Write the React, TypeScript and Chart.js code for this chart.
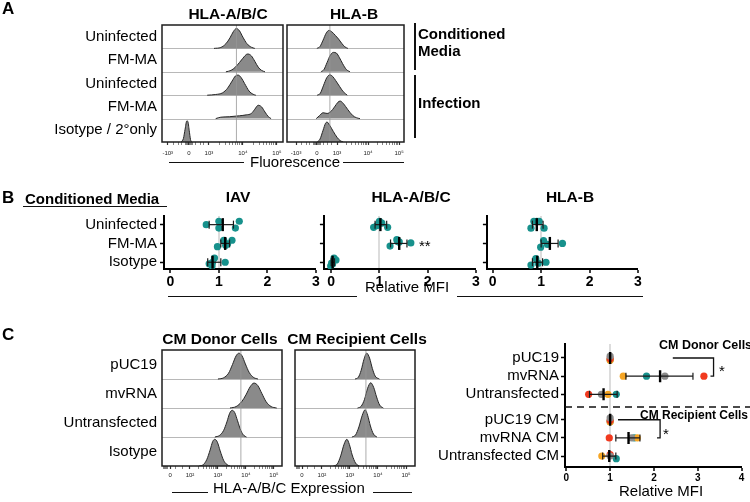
import React, { useEffect, useRef } from 'react';
import { Chart, registerables } from 'chart.js';

Chart.register(...registerables);

const FONT = "'Liberation Sans', Arial, Helvetica, sans-serif";
Chart.defaults.font.family = FONT;
Chart.defaults.color = '#000';

// ---------------- DATA ----------------
// Panel A: flow histograms, x in log10 display units, h = relative height in row
const A_ROWS = ['Uninfected', 'FM-MA', 'Uninfected', 'FM-MA', 'Isotype / 2°only'];
const A_ABC_HISTS = [
  [[3.15, 0], [3.35, 0.04], [3.5, 0.2], [3.62, 0.45], [3.72, 0.72], [3.81, 0.85], [3.9, 0.75], [4.0, 0.48], [4.12, 0.2], [4.25, 0.05], [4.35, 0]],
  [[3.5, 0], [3.65, 0.06], [3.78, 0.2], [3.9, 0.4], [4.0, 0.58], [4.1, 0.74], [4.15, 0.76], [4.25, 0.68], [4.35, 0.45], [4.45, 0.2], [4.55, 0.06], [4.65, 0]],
  [[2.95, 0], [3.2, 0.03], [3.4, 0.1], [3.55, 0.3], [3.68, 0.6], [3.78, 0.82], [3.86, 0.86], [3.95, 0.75], [4.05, 0.5], [4.18, 0.18], [4.3, 0.04], [4.38, 0]],
  [[3.2, 0], [3.35, 0.06], [3.6, 0.08], [3.9, 0.12], [4.1, 0.16], [4.25, 0.22], [4.35, 0.4], [4.45, 0.57], [4.55, 0.5], [4.65, 0.28], [4.75, 0.08], [4.83, 0]],
  [[2.18, 0], [2.25, 0.15], [2.3, 0.55], [2.35, 0.9], [2.38, 0.88], [2.42, 0.5], [2.46, 0.1], [2.5, 0]],
];
const A_B_HISTS = [
  [[2.35, 0], [2.45, 0.08], [2.55, 0.35], [2.65, 0.65], [2.74, 0.77], [2.84, 0.7], [2.95, 0.55], [3.05, 0.4], [3.15, 0.22], [3.25, 0.07], [3.35, 0]],
  [[2.48, 0], [2.58, 0.1], [2.68, 0.4], [2.78, 0.7], [2.88, 0.83], [2.98, 0.8], [3.08, 0.6], [3.18, 0.35], [3.3, 0.1], [3.42, 0]],
  [[2.36, 0], [2.46, 0.08], [2.56, 0.4], [2.67, 0.75], [2.77, 0.87], [2.86, 0.8], [2.96, 0.62], [3.08, 0.38], [3.2, 0.15], [3.33, 0]],
  [[2.33, 0], [2.43, 0.12], [2.55, 0.25], [2.68, 0.22], [2.8, 0.3], [2.92, 0.5], [3.03, 0.7], [3.1, 0.75], [3.2, 0.65], [3.35, 0.38], [3.5, 0.14], [3.62, 0.04], [3.74, 0]],
  [[2.36, 0], [2.45, 0.12], [2.55, 0.5], [2.63, 0.8], [2.68, 0.85], [2.76, 0.72], [2.88, 0.45], [3.0, 0.2], [3.1, 0.06], [3.2, 0]],
];
const A_ABC_REF = 3.81;
const A_B_REF = 2.77;
const A_ABC_TICKS = [1.79, 2.41, 3, 4, 5];
const A_B_TICKS = [1.68, 2.35, 3, 4, 5];
const A_TICK_LABELS = ['-10³', '0', '10³', '10⁴', '10⁵'];

// Panel B: relative MFI dot plots
const B_ROWS = ['Uninfected', 'FM-MA', 'Isotype'];
const B_X_TICKS = [0, 1, 2, 3];
const B_IAV_VALUES = [[0.74, 1.0, 1.0, 1.34, 1.42], [0.97, 1.1, 1.14, 1.18, 1.27], [0.8, 0.91, 0.87, 0.86, 1.13]];
const B_IAV_JITTER = [[0, -0.18, 0.18, 0.18, -0.18], [0.17, -0.17, 0.1, 0.02, -0.17], [0.08, -0.22, 0, 0.2, 0]];
const B_IAV_MEAN = [1.08, 1.13, 0.87];
const B_IAV_LO = [0.8, 1.04, 0.77];
const B_IAV_HI = [1.3, 1.22, 1.04];
const B_ABC_VALUES = [[0.88, 1.0, 1.05, 1.17, 0.95], [1.22, 1.36, 1.41, 1.65, 1.38], [0.01, 0.06, -0.01, 0.1, 0.03]];
const B_ABC_JITTER = [[0.14, -0.17, -0.08, 0.14, 0.05], [0.14, -0.2, -0.08, -0.03, -0.1], [0.05, -0.22, 0.2, -0.12, 0.1]];
const B_ABC_MEAN = [1.02, 1.41, 0.03];
const B_ABC_LO = [0.91, 1.23, 0.0];
const B_ABC_HI = [1.15, 1.57, 0.07];
const B_B_VALUES = [[0.79, 0.85, 0.96, 1.06, 0.91], [0.99, 1.05, 1.13, 1.44], [0.79, 0.89, 1.1, 0.94]];
const B_B_JITTER = [[0.19, -0.17, -0.17, 0.19, -0.17], [0.2, -0.15, 0.05, 0], [0.15, -0.2, 0, 0.05]];
const B_B_MEAN = [0.91, 1.18, 0.92];
const B_B_LO = [0.82, 1.0, 0.82];
const B_B_HI = [1.04, 1.35, 1.03];

// Panel C: histograms
const C_HIST_ROWS = ['pUC19', 'mvRNA', 'Untransfected', 'Isotype'];
const C_DONOR_HISTS = [
  [[3.0, 0], [3.2, 0.04], [3.38, 0.2], [3.52, 0.5], [3.65, 0.8], [3.75, 0.89], [3.86, 0.8], [3.98, 0.52], [4.12, 0.22], [4.28, 0.05], [4.43, 0]],
  [[3.43, 0], [3.65, 0.05], [3.85, 0.22], [4.0, 0.45], [4.15, 0.73], [4.29, 0.86], [4.42, 0.78], [4.57, 0.5], [4.72, 0.22], [4.9, 0.05], [5.1, 0]],
  [[2.89, 0], [3.05, 0.05], [3.2, 0.22], [3.32, 0.52], [3.42, 0.82], [3.51, 0.92], [3.6, 0.84], [3.7, 0.56], [3.82, 0.22], [3.93, 0.05], [4.02, 0]],
  [[2.33, 0], [2.48, 0.05], [2.6, 0.22], [2.72, 0.55], [2.81, 0.84], [2.89, 0.92], [2.98, 0.82], [3.08, 0.52], [3.2, 0.2], [3.32, 0.05], [3.43, 0]],
];
const C_RECIP_HISTS = [
  [[3.18, 0], [3.3, 0.06], [3.4, 0.3], [3.5, 0.68], [3.6, 0.89], [3.7, 0.72], [3.8, 0.36], [3.9, 0.1], [4.05, 0]],
  [[3.27, 0], [3.4, 0.06], [3.52, 0.3], [3.63, 0.68], [3.74, 0.87], [3.85, 0.7], [3.95, 0.38], [4.06, 0.1], [4.19, 0]],
  [[3.07, 0], [3.2, 0.07], [3.32, 0.35], [3.44, 0.75], [3.54, 0.94], [3.63, 0.75], [3.73, 0.38], [3.84, 0.1], [3.96, 0]],
  [[2.41, 0], [2.55, 0.07], [2.67, 0.35], [2.79, 0.75], [2.89, 0.92], [2.98, 0.74], [3.08, 0.38], [3.2, 0.1], [3.33, 0]],
];
const C_DONOR_REF = 3.82;
const C_RECIP_REF = 3.57;
const C_HIST_TICKS = [1.29, 2, 3, 4, 5];
const C_HIST_TICK_LABELS = ['0', '10²', '10³', '10⁴', '10⁵'];

// Panel C: relative MFI per donor
const C_CATS = ['pUC19', 'mvRNA', 'Untransfected', 'pUC19 CM', 'mvRNA CM', 'Untransfected CM'];
const C_GRAY = [1, 2.25, 0.8, 1, 1.49, 1.0];
const C_RED = [1, 3.14, 0.51, 1, 0.98, 1.0];
const C_ORANGE = [1, 1.3, 0.95, 1, 1.62, 0.81];
const C_TEAL = [1, 1.83, 1.14, 1, 1.55, 1.14];
const C_MEAN = [1, 2.14, 0.85, 1, 1.42, 0.98];
const C_LO = [1, 1.36, 0.53, 1, 1.13, 0.83];
const C_HI = [1, 2.89, 1.16, 1, 1.68, 1.13];
const C_X_TICKS = [0, 1, 2, 3, 4];
const C_DONOR_BRACKET = [2.43, 3.36, 3.29];
const C_RECIP_BRACKET = [1.18, 2.14, 2.07];

// ---------------- STYLE / LAYOUT HELPERS ----------------
const TEAL = '#17918c';
const RED = '#f13a1f';
const ORANGE = '#f5a524';
const GRAY = '#8b8b8b';

const C_JITTER = {
  gray: [-0.1, 0, 0, -0.1, 0, 0],
  red: [0.04, 0, 0, 0.04, 0, -0.08],
  orange: [0.12, 0, 0, 0.12, 0, 0],
  teal: [0.1, 0, 0, 0.1, 0, 0.14],
};
const catPos = (i: number) => (i < 3 ? i : i + 0.4);

function decadeMinor(d0: number, d1: number) {
  const out: number[] = [];
  for (let d = d0; d < d1; d++) for (let k = 2; k <= 9; k++) out.push(d + Math.log10(k));
  return out;
}

const framePlugin = (n: number) => ({
  id: 'frame',
  beforeDatasetsDraw(chart: any) {
    const { ctx, chartArea: a, scales } = chart;
    ctx.save();
    ctx.strokeStyle = '#b8b8b8';
    ctx.lineWidth = 1;
    for (let k = 1; k < n; k++) {
      const py = Math.round(scales.y.getPixelForValue(k)) + 0.5;
      ctx.beginPath();
      ctx.moveTo(a.left, py);
      ctx.lineTo(a.right, py);
      ctx.stroke();
    }
    ctx.restore();
  },
  afterDatasetsDraw(chart: any) {
    const { ctx, chartArea: a } = chart;
    ctx.save();
    ctx.strokeStyle = '#1e1e1e';
    ctx.lineWidth = 1.5;
    ctx.strokeRect(a.left, a.top, a.right - a.left, a.bottom - a.top);
    ctx.restore();
  },
});

function histConfig(o: any) {
  const n = o.hists.length;
  const datasets: any[] = [
    {
      data: [{ x: o.ref, y: 0 }, { x: o.ref, y: n }],
      borderColor: 'rgba(150,150,150,0.8)',
      borderWidth: 1,
      pointRadius: 0,
      fill: false,
      order: 0,
    },
  ];
  o.hists.forEach((pts: number[][], r: number) => {
    const base = n - 1 - r;
    datasets.push({
      data: pts.map(([x, h]) => ({ x, y: base + h })),
      fill: { value: base },
      backgroundColor: '#8a8a8a',
      borderColor: '#262626',
      borderWidth: 1,
      pointRadius: 0,
      tension: 0.4,
      cubicInterpolationMode: 'monotone',
      order: 1,
    });
  });
  const allTicks = [...o.ticks, ...o.minor.filter((v: number) => v > o.min && v < o.max)];
  return {
    type: 'line',
    data: { datasets },
    options: {
      responsive: false,
      animation: false,
      devicePixelRatio: 1,
      events: [],
      layout: { padding: { top: o.padTop, right: o.padRight, left: 0, bottom: 0 } },
      plugins: { legend: { display: false }, tooltip: { enabled: false } },
      scales: {
        x: {
          type: 'linear',
          min: o.min,
          max: o.max,
          afterBuildTicks: (s: any) => {
            s.ticks = allTicks.map((v) => ({ value: v }));
          },
          afterFit: (s: any) => {
            s.height = o.xH;
          },
          ticks: {
            autoSkip: false,
            maxRotation: 0,
            padding: o.tickPad,
            font: { size: 6 },
            color: '#222',
            callback: (v: any, i: number) => (i < o.ticks.length ? o.labels[i] : ''),
          },
          grid: {
            drawOnChartArea: false,
            drawTicks: true,
            tickLength: 3,
            tickColor: '#333',
            tickWidth: (ctx: any) => (ctx.index < o.ticks.length ? 1.2 : 0.6),
          },
          border: { display: false },
        },
        y: {
          type: 'linear',
          min: 0,
          max: n,
          afterBuildTicks: (s: any) => {
            s.ticks = o.hists.map((_: any, k: number) => ({ value: k + 0.5 }));
          },
          afterFit: (s: any) => {
            s.width = o.yW;
          },
          ticks: {
            autoSkip: false,
            padding: 5,
            font: { size: 15 },
            color: '#000',
            callback: (v: number) => (o.rows ? o.rows[n - 1 - Math.floor(v)] : ''),
          },
          grid: { display: false, drawTicks: false, tickLength: 0 },
          border: { display: false },
        },
      },
    },
    plugins: [framePlugin(n)],
  };
}

function dotConfig(o: any) {
  const datasets: any[] = [];
  o.series.forEach((s: any, si: number) => {
    datasets.push({
      type: 'scatter',
      data: s.points,
      pointRadius: o.pointR,
      pointBackgroundColor: s.color,
      pointBorderWidth: 0,
      order: 10 + si,
    });
  });
  o.mean.forEach((_: number, r: number) => {
    if (o.lo[r] === o.hi[r]) return;
    datasets.push({
      type: 'line',
      data: [{ x: o.lo[r], y: o.pos[r] }, { x: o.hi[r], y: o.pos[r] }],
      showLine: true,
      fill: false,
      borderColor: '#1a1a1a',
      borderWidth: 1.2,
      pointStyle: 'line',
      pointRadius: o.capR,
      pointRotation: 90,
      pointBorderColor: '#1a1a1a',
      pointBorderWidth: 1.2,
      order: 2,
    });
  });
  datasets.push({
    type: 'scatter',
    data: o.mean.map((m: number, r: number) => ({ x: m, y: o.pos[r] })),
    pointStyle: 'line',
    pointRadius: o.meanR,
    pointRotation: 90,
    pointBorderColor: '#000',
    pointBorderWidth: 2.4,
    order: 1,
  });
  const plugins: any[] = [];
  if (o.decor) plugins.push({ id: 'decor', afterDatasetsDraw: o.decor });
  return {
    type: 'scatter',
    data: { datasets },
    options: {
      responsive: false,
      animation: false,
      devicePixelRatio: 1,
      events: [],
      layout: { padding: { top: o.padTop, right: o.padRight, left: 0, bottom: 0 } },
      plugins: { legend: { display: false }, tooltip: { enabled: false } },
      scales: {
        x: {
          type: 'linear',
          min: o.xmin,
          max: o.xmax,
          afterBuildTicks: (s: any) => {
            s.ticks = o.xticks.map((v: number) => ({ value: v }));
          },
          afterFit: (s: any) => {
            s.height = o.xH;
          },
          ticks: {
            autoSkip: false,
            maxRotation: 0,
            padding: o.xPad,
            font: { size: o.xFont, weight: 'bold' },
            color: '#000',
            callback: (v: number) => String(v),
          },
          grid: {
            drawOnChartArea: true,
            color: (ctx: any) => (ctx.tick && ctx.tick.value === 1 ? '#dcdcdc' : 'rgba(0,0,0,0)'),
            lineWidth: (ctx: any) => (ctx.tick && ctx.tick.value === 1 ? 2 : 0),
            tickColor: '#000',
            tickWidth: 1.5,
            tickLength: 4,
          },
          border: { display: true, color: '#000', width: 2 },
        },
        y: {
          type: 'linear',
          reverse: true,
          min: o.ymin,
          max: o.ymax,
          afterBuildTicks: (s: any) => {
            s.ticks = o.pos.map((v: number) => ({ value: v }));
          },
          afterFit: (s: any) => {
            s.width = o.yW;
          },
          ticks: {
            autoSkip: false,
            padding: o.yPad,
            font: { size: 15 },
            color: '#000',
            callback: (v: number, i: number) => (o.labels ? o.labels[i] : ''),
          },
          grid: { drawOnChartArea: false, tickColor: '#000', tickWidth: 1.5, tickLength: 4 },
          border: { display: true, color: '#000', width: 2 },
        },
      },
    },
    plugins,
  };
}

function ChartBox({ left, top, width, height, config }: any) {
  const ref = useRef<HTMLCanvasElement>(null);
  useEffect(() => {
    const chart = new Chart(ref.current as HTMLCanvasElement, config);
    return () => chart.destroy();
  }, []);
  return (
    <canvas
      ref={ref}
      width={width}
      height={height}
      style={{ position: 'absolute', left, top, width, height }}
    />
  );
}

function Txt({ x, y, size = 15, bold = false, align = 'left', children }: any) {
  const style: any = {
    position: 'absolute',
    top: y - 0.8465 * size,
    fontFamily: FONT,
    fontSize: size,
    fontWeight: bold ? 700 : 400,
    lineHeight: `${size}px`,
    whiteSpace: 'nowrap',
    color: '#000',
  };
  if (align === 'left') style.left = x;
  else if (align === 'center') {
    style.left = x - 150;
    style.width = 300;
    style.textAlign = 'center';
  } else {
    style.left = x - 300;
    style.width = 300;
    style.textAlign = 'right';
  }
  return <div style={style}>{children}</div>;
}

function HRule({ x1, x2, y, w = 1 }: any) {
  return <div style={{ position: 'absolute', left: x1, top: y - w / 2, width: x2 - x1, height: w, background: '#111' }} />;
}
function VRule({ x, y1, y2, w = 1.5 }: any) {
  return <div style={{ position: 'absolute', left: x - w / 2, top: y1, width: w, height: y2 - y1, background: '#111' }} />;
}

function bSeries(values: number[][], jitter: number[][]) {
  const pts: any[] = [];
  values.forEach((row, r) => row.forEach((v, i) => pts.push({ x: v, y: r + jitter[r][i] })));
  return [{ color: TEAL, points: pts }];
}

function cSeries(values: number[], jit: number[]) {
  return values.map((v, i) => ({ x: v, y: catPos(i) + jit[i] }));
}

export default function App() {
  const aMinorL = [1.95, 2.1, 2.2, 2.3, 2.34, 2.37, 2.39, 2.43, 2.45, 2.48, 2.52, 2.62, 2.75, 2.85, ...decadeMinor(3, 5)];
  const aMinorR = [1.85, 2.0, 2.1, 2.24, 2.28, 2.31, 2.33, 2.37, 2.39, 2.42, 2.46, 2.56, 2.7, 2.82, ...decadeMinor(3, 5)];
  const cMinor = [1.04, 1.08, 1.12, 1.16, 1.2, 1.5, 1.75, ...decadeMinor(2, 5)];

  const aLeft = histConfig({
    hists: A_ABC_HISTS, ref: A_ABC_REF, min: 1.62, max: 5.18, ticks: A_ABC_TICKS, labels: A_TICK_LABELS,
    minor: aMinorL, rows: A_ROWS, yW: 162, xH: 20, tickPad: 5, padTop: 10, padRight: 2,
  });
  const aRight = histConfig({
    hists: A_B_HISTS, ref: A_B_REF, min: 1.387, max: 5.16, ticks: A_B_TICKS, labels: A_TICK_LABELS,
    minor: aMinorR, rows: null, yW: 4, xH: 20, tickPad: 5, padTop: 10, padRight: 2,
  });
  const cLeft = histConfig({
    hists: C_DONOR_HISTS, ref: C_DONOR_REF, min: 1.0, max: 5.29, ticks: C_HIST_TICKS, labels: C_HIST_TICK_LABELS,
    minor: cMinor, rows: C_HIST_ROWS, yW: 162, xH: 18, tickPad: 3, padTop: 10, padRight: 2,
  });
  const cRight = histConfig({
    hists: C_RECIP_HISTS, ref: C_RECIP_REF, min: 1.04, max: 5.32, ticks: C_HIST_TICKS, labels: C_HIST_TICK_LABELS,
    minor: cMinor, rows: null, yW: 4, xH: 18, tickPad: 3, padTop: 10, padRight: 2,
  });

  const bCommon = {
    xmax: 3, xticks: B_X_TICKS, ymin: -0.46, ymax: 2.36, pos: [0, 1, 2], padTop: 10, padRight: 10,
    xH: 24, xPad: 1, xFont: 14, yPad: 3, pointR: 3.6, capR: 4, meanR: 6.5,
  };
  const bIAV = dotConfig({
    ...bCommon, xmin: -0.13, yW: 164, labels: B_ROWS,
    series: bSeries(B_IAV_VALUES, B_IAV_JITTER), mean: B_IAV_MEAN, lo: B_IAV_LO, hi: B_IAV_HI,
  });
  const bABC = dotConfig({
    ...bCommon, xmin: -0.15, yW: 8, labels: null,
    series: bSeries(B_ABC_VALUES, B_ABC_JITTER), mean: B_ABC_MEAN, lo: B_ABC_LO, hi: B_ABC_HI,
  });
  const bB = dotConfig({
    ...bCommon, xmin: -0.12, yW: 8, labels: null,
    series: bSeries(B_B_VALUES, B_B_JITTER), mean: B_B_MEAN, lo: B_B_LO, hi: B_B_HI,
  });

  const cDecor = (chart: any) => {
    const { ctx, chartArea: a, scales } = chart;
    const X = (v: number) => scales.x.getPixelForValue(v);
    const Y = (v: number) => scales.y.getPixelForValue(v);
    ctx.save();
    ctx.strokeStyle = '#111';
    ctx.lineWidth = 1.5;
    ctx.setLineDash([7, 5]);
    const sy = Y((catPos(2) + catPos(3)) / 2);
    ctx.beginPath();
    ctx.moveTo(a.left, sy);
    ctx.lineTo(chart.width, sy);
    ctx.stroke();
    ctx.setLineDash([]);
    ctx.lineWidth = 1.3;
    const bracket = (b: number[], r0: number, r1: number) => {
      ctx.beginPath();
      ctx.moveTo(X(b[0]), Y(catPos(r0)));
      ctx.lineTo(X(b[1]), Y(catPos(r0)));
      ctx.lineTo(X(b[1]), Y(catPos(r1)));
      ctx.lineTo(X(b[2]), Y(catPos(r1)));
      ctx.stroke();
    };
    bracket(C_DONOR_BRACKET, 0, 1);
    bracket(C_RECIP_BRACKET, 3, 4);
    ctx.restore();
  };

  const cDots = dotConfig({
    xmin: -0.03, xmax: 4, xticks: C_X_TICKS, ymin: -0.77, ymax: 6.0, pos: C_CATS.map((_, i) => catPos(i)),
    padTop: 10, padRight: 8, xH: 30, xPad: 1, xFont: 10, yPad: 2, yW: 135, labels: C_CATS,
    pointR: 3.6, capR: 3.5, meanR: 6,
    series: [
      { color: GRAY, points: cSeries(C_GRAY, C_JITTER.gray) },
      { color: RED, points: cSeries(C_RED, C_JITTER.red) },
      { color: ORANGE, points: cSeries(C_ORANGE, C_JITTER.orange) },
      { color: TEAL, points: cSeries(C_TEAL, C_JITTER.teal) },
    ],
    mean: C_MEAN, lo: C_LO, hi: C_HI, decor: cDecor,
  });

  return (
    <div style={{ position: 'absolute', left: 0, top: 0, width: 750, height: 502, background: '#fff', overflow: 'hidden' }}>
      {/* Panel A */}
      <ChartBox left={0} top={11} width={285} height={151} config={aLeft} />
      <ChartBox left={283} top={11} width={123} height={151} config={aRight} />
      <Txt x={2} y={14.5} size={17} bold>A</Txt>
      <Txt x={228} y={19.5} size={15.5} bold align="center">HLA-A/B/C</Txt>
      <Txt x={354} y={19.5} size={15.5} bold align="center">HLA-B</Txt>
      <VRule x={415} y1={23} y2={70} />
      <VRule x={415} y1={75} y2={138} />
      <Txt x={418} y={38.5} size={15} bold>Conditioned</Txt>
      <Txt x={418} y={56} size={15} bold>Media</Txt>
      <Txt x={418} y={108} size={15} bold>Infection</Txt>
      <Txt x={250} y={167} size={15}>Fluorescence</Txt>
      <HRule x1={169} x2={244} y={162} />
      <HRule x1={343} x2={404} y={162} />

      {/* Panel B */}
      <ChartBox left={0} top={204} width={326} height={89} config={bIAV} />
      <ChartBox left={315} top={204} width={171} height={89} config={bABC} />
      <ChartBox left={478} top={204} width={170} height={89} config={bB} />
      <Txt x={2} y={203} size={17} bold>B</Txt>
      <Txt x={25} y={204} size={15} bold>Conditioned Media</Txt>
      <HRule x1={23} x2={167} y={206.5} w={1.5} />
      <Txt x={238} y={202} size={15.5} bold align="center">IAV</Txt>
      <Txt x={411} y={202} size={15.5} bold align="center">HLA-A/B/C</Txt>
      <Txt x={570} y={202} size={15.5} bold align="center">HLA-B</Txt>
      <Txt x={419} y={251} size={15}>**</Txt>
      <Txt x={365} y={292} size={15}>Relative MFI</Txt>
      <HRule x1={168} x2={357} y={296.5} />
      <HRule x1={457} x2={643} y={296.5} />

      {/* Panel C */}
      <ChartBox left={0} top={336} width={284} height={148} config={cLeft} />
      <ChartBox left={291} top={336} width={126} height={148} config={cRight} />
      <ChartBox left={430} top={333} width={320} height={164} config={cDots} />
      <Txt x={2} y={340} size={17} bold>C</Txt>
      <Txt x={220} y={344} size={15.5} bold align="center">CM Donor Cells</Txt>
      <Txt x={357} y={344} size={15.5} bold align="center">CM Recipient Cells</Txt>
      <Txt x={213} y={492.5} size={15}>HLA-A/B/C Expression</Txt>
      <HRule x1={172} x2={208} y={492} />
      <HRule x1={373} x2={412} y={492} />
      <Txt x={619} y={496} size={15}>Relative MFI</Txt>
      <Txt x={659} y={350} size={12.5} bold>CM Donor Cells</Txt>
      <Txt x={719} y={376} size={15}>*</Txt>
      <Txt x={640} y={419} size={12} bold>CM Recipient Cells</Txt>
      <Txt x={663} y={439} size={15}>*</Txt>
    </div>
  );
}
